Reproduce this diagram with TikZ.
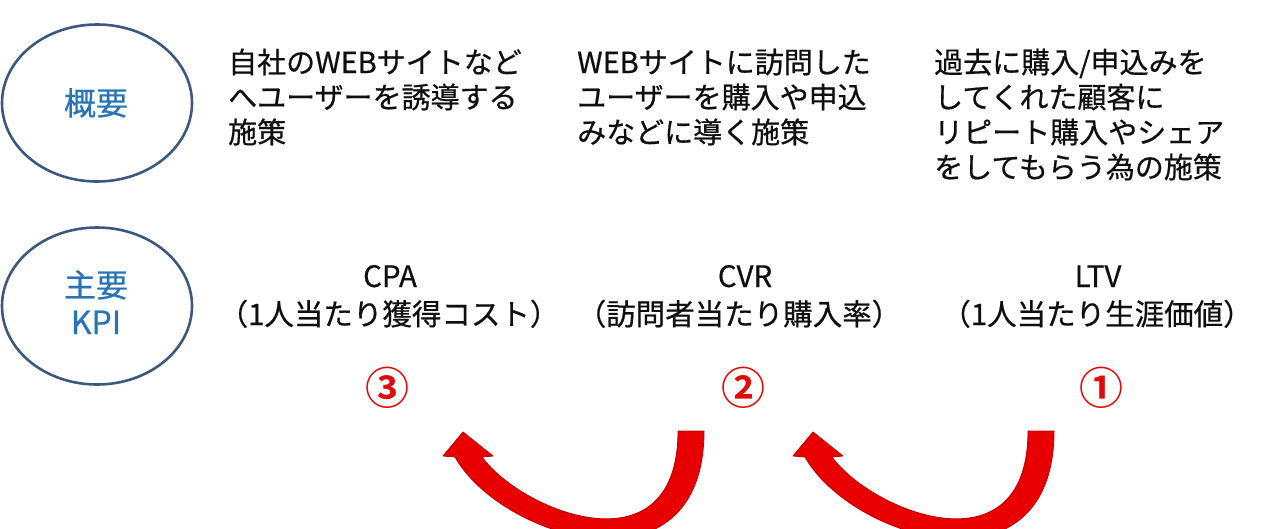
\documentclass[tikz,border=0pt]{standalone}
\usepackage{fontspec}
\setmainfont{Noto Sans CJK JP}[BoldFont={Noto Sans CJK JP Bold}]
\newfontfamily\jpmed{Noto Sans CJK JP}[FakeBold=0.6]
\definecolor{ringc}{RGB}{60,88,124}
\definecolor{labc}{RGB}{40,116,182}
\definecolor{txtc}{RGB}{15,15,15}
\definecolor{arrf}{RGB}{232,0,0}
\definecolor{arrd}{RGB}{185,0,0}
\definecolor{numc}{RGB}{225,10,10}
\usetikzlibrary{shapes.geometric}
\tikzset{
  ring/.style={draw=ringc,line width=2.6pt,ellipse,minimum width=190pt,minimum height=157pt,inner sep=0pt},
  lab/.style={text=labc,font=\jpmed\fontsize{32}{32}\selectfont,inner sep=0pt,anchor=base},
  body/.style={text=txtc,font=\jpmed\fontsize{29}{35}\selectfont,inner sep=0pt,anchor=base west},
  kpi/.style={text=txtc,font=\jpmed\fontsize{29.5}{35}\selectfont,inner sep=0pt,anchor=base},
  num/.style={text=numc,font=\bfseries\fontsize{44}{44}\selectfont,inner sep=0pt,anchor=base},
  bigarrow/.style={fill=arrf,draw=arrd,line width=0.8pt,line join=round}
}
\begin{document}
\begin{tikzpicture}[x=1pt,y=-1pt]
\useasboundingbox (0,0) rectangle (1280,528);
\clip (0,0) rectangle (1280,528);
% ellipses
\node[ring] (e1) at (97,103) {};
\node[ring] (e2) at (97,306) {};
\node[lab] (l1) at (96,115) {概要};
\node[lab] (l2a) at (96,297) {主要};
\node[lab] (l2b) at (96,334) {KPI};
% column 1
\node[body] (a1) at (228,73) {自社のWEBサイトなど};
\node[body] (a2) at (228,108) {へユーザーを誘導する};
\node[body] (a3) at (228,143) {施策};
% column 2
\node[body] (b1) at (577,73) {WEBサイトに訪問した};
\node[body] (b2) at (577,108) {ユーザーを購入や申込};
\node[body] (b3) at (577,143) {みなどに導く施策};
% column 3
\node[body] (c1) at (934,73) {過去に購入/申込みを};
\node[body] (c2) at (934,108) {してくれた顧客に};
\node[body] (c3) at (934,143) {リピート購入やシェア};
\node[body] (c4) at (934,178) {をしてもらう為の施策};
% KPI row
\node[kpi] (k1a) at (390,287) {CPA};
\node[kpi] (k1b) at (389,325) {（1人当たり獲得コスト）};
\node[kpi] (k2a) at (745,287) {CVR};
\node[kpi] (k2b) at (739,325) {（訪問者当たり購入率）};
\node[kpi] (k3a) at (1098,287) {LTV};
\node[kpi] (k3b) at (1097,325) {（1人当たり生涯価値）};
% numbers
\node[num] (n3) at (387,404) {③};
\node[num] (n2) at (743,404) {②};
\node[num] (n1) at (1101,404) {①};
% arrows
\foreach \dx in {0,350}{
  \begin{scope}[xshift=\dx pt]
  \fill[bigarrow] (678,431) -- (704,431) .. controls (704,600) and (502,540) .. (455,457)
     -- (443,456) -- (463,432) -- (493,456) -- (482,457)
     .. controls (522,512) and (678,574) .. (678,431) -- cycle;
  \end{scope}
}
\end{tikzpicture}
\end{document}
